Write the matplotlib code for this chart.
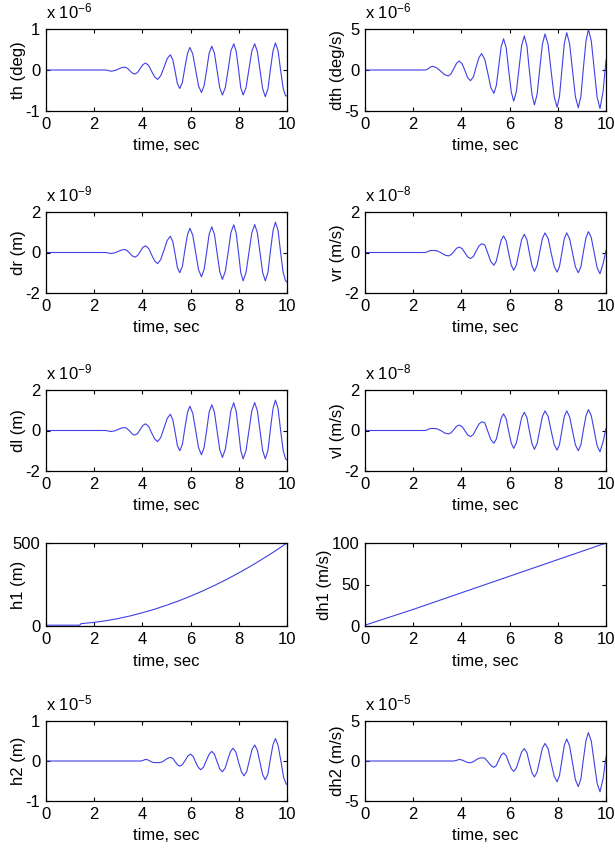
import matplotlib
matplotlib.use('Agg')
import matplotlib.pyplot as plt

plt.rcParams['font.family'] = ['Liberation Sans', 'DejaVu Sans']
plt.rcParams['axes.unicode_minus'] = False
plt.rcParams['mathtext.default'] = 'regular'

# time bases (s)
t_a = [0, 2.5, 2.6, 2.7, 2.84, 2.99, 3.13, 3.27, 3.37, 3.48, 3.58, 3.69, 3.80, 3.91, 4.02, 4.13,
       4.26, 4.38, 4.51, 4.63, 4.76, 4.90, 5.03, 5.16, 5.26, 5.36, 5.45, 5.55, 5.66, 5.76, 5.87, 5.97,
       6.09, 6.21, 6.33, 6.45, 6.56, 6.67, 6.77, 6.88, 6.99, 7.10, 7.21, 7.32, 7.44, 7.56, 7.67, 7.79,
       7.89, 7.99, 8.08, 8.18, 8.30, 8.42, 8.54, 8.66, 8.77, 8.88, 8.99, 9.10, 9.21, 9.31, 9.42, 9.52,
       9.63, 9.73, 9.84, 9.94, 10.0]
t_b = [0, 2.5, 2.58, 2.66, 2.73, 2.81, 2.97, 3.14, 3.30, 3.46, 3.57, 3.69, 3.80, 3.91, 4.03, 4.15,
       4.26, 4.38, 4.50, 4.61, 4.73, 4.84, 4.97, 5.10, 5.22, 5.35, 5.45, 5.55, 5.65, 5.75, 5.86, 5.96,
       6.07, 6.17, 6.28, 6.39, 6.50, 6.61, 6.72, 6.82, 6.93, 7.03, 7.14, 7.25, 7.36, 7.47, 7.60, 7.72,
       7.85, 7.97, 8.07, 8.17, 8.27, 8.37, 8.49, 8.61, 8.73, 8.85, 8.96, 9.06, 9.17, 9.27, 9.39, 9.51,
       9.63, 9.75, 9.88, 10.0]
t_h2 = [0, 3.96, 4.05, 4.13, 4.22, 4.31, 4.41, 4.50, 4.61, 4.72, 4.83, 4.95, 5.06, 5.17, 5.27, 5.36,
        5.46, 5.55, 5.66, 5.78, 5.89, 6.00, 6.11, 6.21, 6.32, 6.42, 6.54, 6.65, 6.77, 6.88, 6.99, 7.10,
        7.21, 7.32, 7.43, 7.54, 7.65, 7.76, 7.88, 7.99, 8.11, 8.22, 8.33, 8.44, 8.55, 8.66, 8.77, 8.88,
        8.99, 9.10, 9.21, 9.31, 9.42, 9.52, 9.63, 9.75, 9.86, 9.97, 10.0]
t_h1 = [0, 1.4, 1.45, 2, 2.5, 3, 3.5, 4, 4.5, 5, 5.5, 6, 6.5, 7, 7.5, 8, 8.5, 9, 9.5, 10]
t_dh1 = [0, 2, 4, 6, 8, 10]

# values in displayed units (see exponent labels)
th = [0, 0, -0.015, -0.03, -0.015, 0.02, 0.055, 0.07, 0.045, -0.015, -0.075, -0.10, -0.06, 0.035, 0.13, 0.17,
      0.11, -0.03, -0.17, -0.23, -0.14, 0.07, 0.28, 0.37, 0.25, -0.04, -0.33, -0.45, -0.30, 0.05, 0.40, 0.55,
      0.39, 0.0, -0.39, -0.55, -0.385, 0.015, 0.415, 0.58, 0.405, -0.015, -0.435, -0.61, -0.43, 0.015, 0.46, 0.64,
      0.46, 0.015, -0.43, -0.61, -0.43, 0.015, 0.46, 0.64, 0.45, -0.005, -0.46, -0.65, -0.46, 0.005, 0.47, 0.66,
      0.47, 0.015, -0.44, -0.63, -0.63]
dth = [0, 0, 0.07, 0.23, 0.38, 0.45, 0.28, -0.14, -0.56, -0.73, -0.46, 0.19, 0.83, 1.10, 0.75, -0.10,
       -0.95, -1.30, -0.82, 0.35, 1.52, 2.00, 1.29, -0.43, -2.14, -2.85, -1.88, 0.48, 2.83, 3.80, 2.69, 0.00,
       -2.69, -3.80, -2.64, 0.18, 2.99, 4.15, 2.92, -0.05, -3.02, -4.25, -2.98, 0.08, 3.13, 4.40, 3.09, -0.08,
       -3.24, -4.55, -3.22, 0.00, 3.22, 4.55, 3.21, -0.03, -3.26, -4.60, -3.20, 0.18, 3.55, 4.95, 3.54, 0.13,
       -3.29, -4.70, -2.60, 1.20]
dr = [0, 0, -0.03, -0.05, -0.02, 0.05, 0.12, 0.15, 0.09, -0.04, -0.17, -0.23, -0.15, 0.05, 0.25, 0.33,
      0.20, -0.11, -0.42, -0.55, -0.35, 0.13, 0.60, 0.80, 0.54, -0.10, -0.74, -1.00, -0.68, 0.10, 0.88, 1.20,
      0.85, 0.00, -0.85, -1.20, -0.84, 0.04, 0.91, 1.27, 0.89, -0.03, -0.95, -1.33, -0.93, 0.02, 0.97, 1.37,
      0.96, -0.02, -0.99, -1.40, -0.99, -0.01, 0.97, 1.38, 0.97, -0.01, -0.99, -1.40, -0.98, 0.05, 1.08, 1.50,
      1.08, 0.05, -0.98, -1.40, -1.45]
vr = [0, 0, 0.03, 0.08, 0.10, 0.10, 0.09, 0.0, -0.12, -0.17, -0.11, 0.05, 0.21, 0.27, 0.19, -0.02,
      -0.22, -0.30, -0.19, 0.07, 0.32, 0.43, 0.38, -0.05, -0.45, -0.63, -0.42, 0.10, 0.61, 0.82, 0.57, -0.03,
      -0.63, -0.88, -0.62, 0.01, 0.64, 0.90, 0.63, -0.02, -0.66, -0.93, -0.65, 0.02, 0.69, 0.97, 0.69, 0.0,
      -0.69, -0.97, -0.69, 0.0, 0.69, 0.97, 0.68, -0.02, -0.71, -1.00, -0.70, 0.02, 0.73, 1.03, 0.73, -0.01,
      -0.75, -1.05, -0.55, 0.10]
dl = list(dr)
vl = list(vr)
h1 = [5, 5, 14, 22, 32, 45, 61, 80, 101, 125, 151, 180, 211, 245, 281, 320, 361, 405, 451, 500]
dh1 = [1, 20, 40, 60, 80, 100]
h2 = [0, 0, 0.02, 0.04, 0.03, 0.0, -0.03, -0.04, -0.04, -0.04, -0.02, 0.03, 0.07, 0.09, 0.06, -0.02,
      -0.10, -0.13, -0.09, 0.02, 0.13, 0.17, 0.11, -0.03, -0.16, -0.22, -0.15, 0.01, 0.17, 0.24, 0.17, -0.02,
      -0.20, -0.27, -0.18, 0.03, 0.23, 0.32, 0.22, -0.03, -0.27, -0.37, -0.26, 0.02, 0.29, 0.40, 0.27, -0.04,
      -0.34, -0.47, -0.32, 0.05, 0.41, 0.56, 0.39, -0.01, -0.41, -0.58, -0.58]
dh2 = [0, 0, 0, 0, 0, 0, 0, 0, 0, 0, 0, 0, 0.08, 0.20, 0.12, -0.05,
       -0.18, -0.22, -0.08, 0.15, 0.35, 0.40, 0.35, -0.10, -0.55, -0.80, -0.54, 0.10, 0.74, 1.00, 0.66, -0.15,
       -0.96, -1.30, -0.88, 0.13, 1.13, 1.55, 1.03, -0.23, -1.48, -2.00, -1.39, 0.10, 1.59, 2.20, 1.50, -0.20,
       -1.90, -2.60, -1.82, 0.08, 1.97, 2.75, 1.88, -0.23, -2.33, -3.20, -2.21, 0.18, 2.56, 3.55, 2.47, -0.15,
       -2.77, -3.85, -2.20, 0.50]

W, H = 615, 848
cols = [(46, 287), (365, 606)]
rows = [(29, 111), (212, 293), (390, 471), (543, 626), (721, 801)]

panels = [
    (0, 0, t_a, th, 1, 'th (deg)', '-6'),
    (0, 1, t_b, dth, 5, 'dth (deg/s)', '-6'),
    (1, 0, t_a, dr, 2, 'dr (m)', '-9'),
    (1, 1, t_b, vr, 2, 'vr (m/s)', '-8'),
    (2, 0, t_a, dl, 2, 'dl (m)', '-9'),
    (2, 1, t_b, vl, 2, 'vl (m/s)', '-8'),
    (3, 0, t_h1, h1, None, 'h1 (m)', None),
    (3, 1, t_dh1, dh1, None, 'dh1 (m/s)', None),
    (4, 0, t_h2, h2, 1, 'h2 (m)', '-5'),
    (4, 1, t_b, dh2, 5, 'dh2 (m/s)', '-5'),
]

fig = plt.figure(figsize=(W / 100, H / 100), dpi=100)
for r, c, t, y, lim, ylab, expo in panels:
    x0, x1 = cols[c]
    y0, y1 = rows[r]
    ax = fig.add_axes([x0 / W, 1 - y1 / H, (x1 - x0) / W, (y1 - y0) / H])
    ax.plot(t, y, color=(0.25, 0.25, 0.9), lw=0.8)
    ax.set_xlim(0, 10)
    ax.set_xticks([0, 2, 4, 6, 8, 10])
    if lim is not None:
        ax.set_ylim(-lim, lim)
        ax.set_yticks([-lim, 0, lim])
    elif ylab.startswith('h1'):
        ax.set_ylim(0, 500)
        ax.set_yticks([0, 500])
    else:
        ax.set_ylim(0, 100)
        ax.set_yticks([0, 50, 100])
    ax.tick_params(direction='in', top=True, right=True, length=3, width=0.8,
                   labelsize=12, pad=4)
    for s in ax.spines.values():
        s.set_linewidth(0.9)
    ax.set_xlabel('time, sec', fontsize=12, labelpad=5)
    ax.set_ylabel(ylab, fontsize=12)
    ax.yaxis.set_label_coords(-0.135 if ylab.startswith('dh1') else -0.085, 0.5)
    if expo is not None:
        ax.text(0, 1.09, 'x 10$^{' + expo + '}$', transform=ax.transAxes,
                ha='left', va='bottom', fontsize=12)

fig.savefig('out.png', dpi=100)
